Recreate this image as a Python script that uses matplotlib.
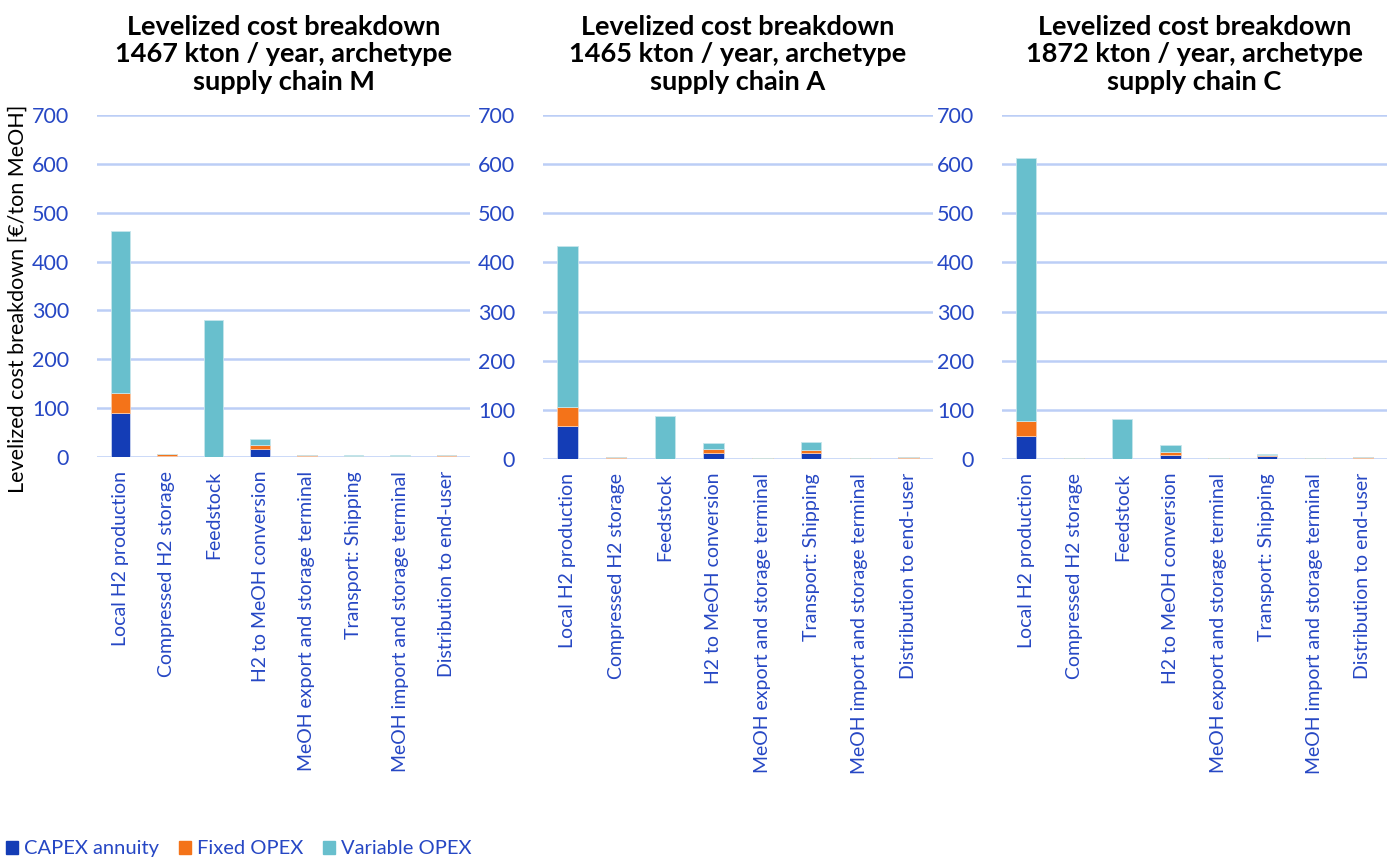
import matplotlib.pyplot as plt
import numpy as np
from matplotlib.patches import Patch

plt.rcParams['font.family'] = ['Lato', 'DejaVu Sans']

categories = ["Local H2 production", "Compressed H2 storage", "Feedstock",
              "H2 to MeOH conversion", "MeOH export and storage terminal",
              "Transport: Shipping", "MeOH import and storage terminal",
              "Distribution to end-user"]

titles = ["Levelized cost breakdown\n1467 kton / year, archetype\nsupply chain M",
          "Levelized cost breakdown\n1465 kton / year, archetype\nsupply chain A",
          "Levelized cost breakdown\n1872 kton / year, archetype\nsupply chain C"]

# chain M
capex_m = [90, 3, 0, 17, 3, 1, 1, 3]
fixed_m = [40, 2.5, 0, 8, 1, 0.5, 2, 1.5]
var_m = [333, 1, 280, 11, 0, 3, 0.3, 0.5]
# chain A
capex_a = [67, 2.5, 0, 13, 1, 13, 0.5, 2.5]
fixed_a = [39, 1.5, 0, 8, 1, 6, 1.5, 1.5]
var_a = [328, 0.5, 88, 11, 0.5, 16, 0.5, 0.5]
# chain C
capex_c = [47, 0.5, 0, 8, 0.5, 5.5, 0.3, 2.5]
fixed_c = [31, 2, 0, 7, 1.5, 2, 1.8, 1.5]
var_c = [535, 0.5, 82, 14, 0.3, 3.5, 0.2, 0.5]

series = [(capex_m, fixed_m, var_m), (capex_a, fixed_a, var_a), (capex_c, fixed_c, var_c)]

c_capex = "#143db6"
c_fixed = "#f47319"
c_var = "#68bfcd"
blue_txt = "#2647c4"
grid_c = "#bccef6"

fig = plt.figure(figsize=(13.95, 8.6), dpi=100)

# axes boxes in pixels (left, right, y of zero)
boxes = [(97, 470, 457), (543, 933, 459), (1002, 1387, 459)]
W, H = 1395, 860

x = np.arange(len(categories))
for i, (l, r, y0) in enumerate(boxes):
    top = 115
    ax = fig.add_axes([l / W, (H - y0) / H, (r - l) / W, (y0 - top) / H])
    cap, fix, var = series[i]
    cap = np.array(cap); fix = np.array(fix); var = np.array(var)
    ax.bar(x, cap, width=0.42, color=c_capex, edgecolor="#c9d3f0", linewidth=0.6, zorder=3)
    ax.bar(x, fix, width=0.42, bottom=cap, color=c_fixed, edgecolor="#f9c9a8", linewidth=0.6, zorder=3)
    ax.bar(x, var, width=0.42, bottom=cap + fix, color=c_var, edgecolor="#c6e6ec", linewidth=0.6, zorder=3)
    ax.set_xlim(-0.5, len(categories) - 0.5)
    ax.set_ylim(0, 700)
    ax.set_yticks(range(0, 701, 100))
    ax.yaxis.grid(True, color=grid_c, linewidth=1.8, zorder=0)
    for s in ax.spines.values():
        s.set_visible(False)
    ax.tick_params(axis='y', length=0, pad=20, labelsize=15.5, labelcolor=blue_txt)
    ax.tick_params(axis='x', length=0, pad=10, labelsize=14, labelcolor=blue_txt)
    ax.set_xticks(x)
    ax.set_xticklabels(categories, rotation=90)
    ax.set_title(titles[i], fontsize=19.5, fontweight='bold', pad=18, linespacing=1.18)

fig.text(0.013, 0.653, "Levelized cost breakdown [€/ton MeOH]", rotation=90,
         ha='center', va='center', fontsize=15.5)

handles = [Patch(color=c_capex, label="CAPEX annuity"),
           Patch(color=c_fixed, label="Fixed OPEX"),
           Patch(color=c_var, label="Variable OPEX")]
leg = fig.legend(handles=handles, loc='lower left', bbox_to_anchor=(-0.009, -0.018), ncol=3,
                 frameon=False, fontsize=14.5, handlelength=0.6, handleheight=0.6,
                 handletextpad=0.3, columnspacing=1.0)
for t in leg.get_texts():
    t.set_color(blue_txt)

fig.savefig("out.png", dpi=100)
